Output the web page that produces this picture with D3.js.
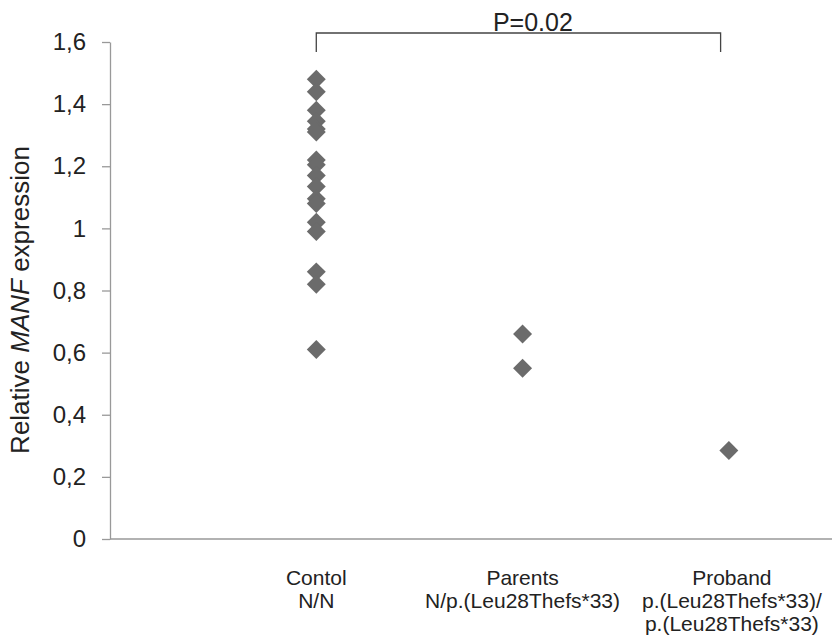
<!DOCTYPE html>
<html>
<head>
<meta charset="utf-8">
<script src="https://cdn.jsdelivr.net/npm/d3@7"></script>
<style>
  body { margin: 0; background: #fff; }
  text { font-family: "Liberation Sans", Arial, sans-serif; fill: #222; }
</style>
</head>
<body>
<div id="chart"></div>
<script>
// groups and their x position on the category scale
const groups = ["Contol", "Parents", "Proband"];
const groupLabels = [
    ["Contol", "N/N"],
    ["Parents", "N/p.(Leu28Thefs*33)"],
    ["Proband", "p.(Leu28Thefs*33)/", "p.(Leu28Thefs*33)"]
];
const controlValues = [1.48, 1.44, 1.38, 1.345, 1.32, 1.31, 1.22, 1.205, 1.17, 1.135, 1.095, 1.08, 1.02, 0.99, 0.86, 0.82, 0.61];
const parentValues = [0.66, 0.55];
const probandValues = [0.285];
const yTicks = [0, 0.2, 0.4, 0.6, 0.8, 1, 1.2, 1.4, 1.6];
const pLabel = "P=0.02";

const margin = { top: 42, right: 1, bottom: 100, left: 110 };
const width = 833 - margin.left - margin.right;
const height = 639 - margin.top - margin.bottom;

const svg = d3.select("#chart")
    .append("svg")
    .attr("width", 833)
    .attr("height", 639)
    .append("g")
    .attr("transform", "translate(" + margin.left + "," + margin.top + ")");

// x is a plain linear scale, groups sit at 1, 2, 3
const x = d3.scaleLinear().domain([0, 3.5]).range([0, width]);
const y = d3.scaleLinear().domain([0, 1.6]).range([height, 0]);

const fmt = d => String(d).replace(".", ",");

// Y axis
const yAxis = svg.append("g")
    .call(d3.axisLeft(y).tickValues(yTicks).tickFormat(fmt).tickSize(8).tickSizeOuter(0));
yAxis.select(".domain").attr("stroke", "#999").attr("stroke-width", 1.3);
yAxis.selectAll(".tick line").attr("stroke", "#999").attr("stroke-width", 1.3);
yAxis.selectAll(".tick text")
    .attr("x", -24)
    .style("font-size", "24px")
    .style("font-family", "Liberation Sans, Arial, sans-serif")
    .attr("fill", "#222");

// X axis line only
svg.append("line")
    .attr("x1", 0).attr("x2", width)
    .attr("y1", y(0)).attr("y2", y(0))
    .attr("stroke", "#999").attr("stroke-width", 1.3);

// Y axis title
const yTitle = svg.append("text")
    .attr("transform", "rotate(-90)")
    .attr("x", -(300 - margin.top))
    .attr("y", -81)
    .attr("text-anchor", "middle")
    .style("font-size", "26px");
yTitle.append("tspan").text("Relative ");
yTitle.append("tspan").style("font-style", "italic").text("MANF");
yTitle.append("tspan").text(" expression");

// category labels, one text per line
groupLabels.forEach(function (lines, i) {
    lines.forEach(function (l, j) {
        svg.append("text")
            .attr("x", x(i + 1) + (i === 2 ? 3 : 0))
            .attr("y", height + 46 + j * 23)
            .attr("text-anchor", "middle")
            .style("font-size", "21px")
            .text(l);
    });
});

// points
const points = []
    .concat(controlValues.map(v => ({ g: 1, v: v })))
    .concat(parentValues.map(v => ({ g: 2, v: v })))
    .concat(probandValues.map(v => ({ g: 3, v: v })));

const diamond = d3.symbol().type(d3.symbolSquare).size(180);
svg.selectAll("path.pt")
    .data(points)
    .enter()
    .append("path")
    .attr("class", "pt")
    .attr("d", diamond)
    .attr("transform", d => "translate(" + x(d.g) + "," + y(d.v) + ") rotate(45)")
    .attr("fill", "#6b6b6b");

// significance bracket
const bx1 = x(1), bx2 = x(2.96);
const by = -9, bdrop = 19;
svg.append("path")
    .attr("d", "M" + bx1 + "," + (by + bdrop) + "V" + by + "H" + bx2 + "V" + (by + bdrop))
    .attr("fill", "none")
    .attr("stroke", "#444")
    .attr("stroke-width", 1.3);

svg.append("text")
    .attr("x", x(2.05))
    .attr("y", by - 2)
    .attr("text-anchor", "middle")
    .style("font-size", "25px")
    .text(pLabel);
</script>
</body>
</html>
